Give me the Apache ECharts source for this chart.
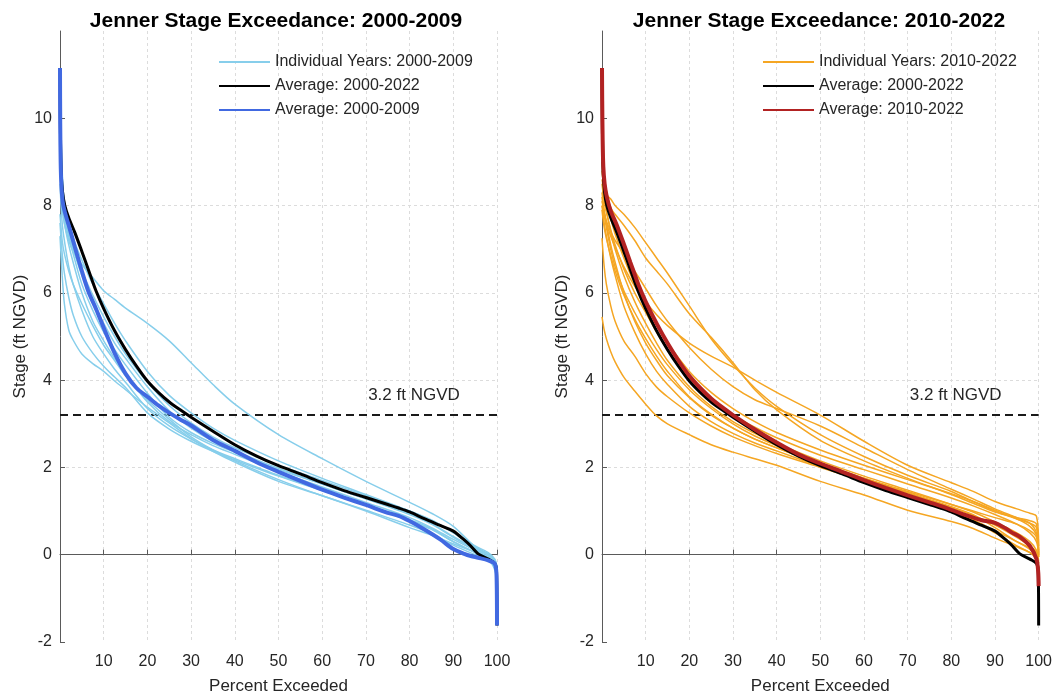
<!DOCTYPE html>
<html>
<head>
<meta charset="utf-8">
<script src="https://cdn.jsdelivr.net/npm/echarts@6/dist/echarts.min.js"></script>
<style>
  html, body { margin: 0; padding: 0; background: #fff; }
  #chart { width: 1055px; height: 700px; }
</style>
</head>
<body>
<div id="chart"></div>
<script>
// Percent-of-time-exceeded positions used by the yearly duration curves
const pctExceeded = [0, 0.5, 1, 2, 3, 5, 7.5, 10, 12.5, 15, 20, 25, 30, 35, 40, 50, 60, 70, 80, 85, 90, 95, 98, 99.5, 100];

// Yearly stage duration curves, 2000-2009 (ft NGVD)
const yr2000 = [9.2, 8.0, 7.6, 7.2, 6.95, 6.65, 6.35, 6.05, 5.85, 5.65, 5.3, 4.9, 4.4, 3.9, 3.45, 2.75, 2.2, 1.68, 1.2, 0.95, 0.65, 0.18, 0.0, -0.15, -0.3];
const yr2001 = [7.3, 6.4, 5.75, 5.15, 4.92, 4.6, 4.38, 4.2, 3.98, 3.78, 3.38, 3.02, 2.66, 2.37, 2.12, 1.68, 1.35, 1.0, 0.62, 0.45, 0.25, 0.06, -0.06, -0.3, -0.55];
const yr2002 = [8.5, 7.6, 7.2, 6.6, 6.2, 5.6, 5.0, 4.6, 4.25, 3.95, 3.35, 2.95, 2.65, 2.4, 2.2, 1.82, 1.48, 1.15, 0.8, 0.6, 0.3, 0.05, -0.1, -0.3, -0.6];
const yr2003 = [9.0, 8.0, 7.6, 7.1, 6.7, 6.0, 5.35, 4.9, 4.5, 4.15, 3.5, 3.05, 2.75, 2.5, 2.3, 1.9, 1.55, 1.2, 0.85, 0.62, 0.35, 0.1, -0.05, -0.2, -0.4];
const yr2004 = [10.5, 8.8, 8.0, 7.3, 6.9, 6.2, 5.6, 5.1, 4.7, 4.35, 3.7, 3.15, 2.8, 2.55, 2.35, 1.95, 1.62, 1.28, 0.95, 0.72, 0.42, 0.15, 0.0, -0.2, -1.6];
const yr2005 = [8.8, 8.0, 7.7, 7.3, 7.0, 6.4, 5.8, 5.3, 4.85, 4.5, 3.85, 3.3, 2.9, 2.6, 2.38, 1.98, 1.62, 1.28, 0.92, 0.7, 0.4, 0.12, -0.02, -0.2, -0.5];
const yr2006 = [9.5, 8.3, 7.9, 7.4, 7.05, 6.5, 5.95, 5.45, 5.0, 4.6, 3.95, 3.42, 3.02, 2.7, 2.45, 2.05, 1.7, 1.35, 1.0, 0.8, 0.5, 0.18, 0.02, -0.12, -0.3];
const yr2007 = [10.0, 8.6, 8.1, 7.6, 7.25, 6.75, 6.2, 5.75, 5.3, 4.9, 4.2, 3.65, 3.25, 2.9, 2.62, 2.15, 1.75, 1.38, 1.0, 0.78, 0.52, 0.2, 0.05, -0.1, -0.3];
const yr2008 = [7.8, 7.2, 6.9, 6.5, 6.2, 5.75, 5.25, 4.8, 4.45, 4.1, 3.55, 3.1, 2.7, 2.4, 2.15, 1.72, 1.35, 1.02, 0.68, 0.48, 0.22, 0.0, -0.12, -0.35, -0.7];
const yr2009 = [7.6, 6.9, 6.45, 5.9, 5.5, 5.0, 4.62, 4.32, 4.07, 3.83, 3.25, 2.88, 2.6, 2.37, 2.17, 1.8, 1.47, 1.13, 0.78, 0.58, 0.3, 0.05, -0.08, -0.3, -0.45];

// Yearly stage duration curves, 2010-2022 (ft NGVD)
const yr2010 = [5.45, 5.15, 4.95, 4.65, 4.42, 4.07, 3.75, 3.45, 3.18, 3.0, 2.75, 2.52, 2.35, 2.2, 2.05, 1.68, 1.37, 1.02, 0.76, 0.6, 0.38, 0.18, 0.05, -0.05, -0.2];
const yr2011 = [7.25, 6.6, 6.2, 5.7, 5.35, 4.9, 4.55, 4.15, 3.84, 3.62, 3.25, 2.95, 2.7, 2.5, 2.32, 2.0, 1.68, 1.35, 1.0, 0.78, 0.5, 0.2, 0.05, -0.1, -0.3];
const yr2012 = [9.4, 8.7, 8.35, 7.95, 7.8, 7.55, 7.2, 6.8, 6.5, 6.2, 5.52, 4.98, 4.4, 3.78, 3.32, 2.62, 2.15, 1.75, 1.38, 1.18, 0.98, 0.85, 0.78, 0.7, 0.1];
const yr2013 = [8.6, 8.35, 8.25, 8.15, 8.0, 7.8, 7.5, 7.15, 6.8, 6.45, 5.7, 4.95, 4.35, 3.82, 3.4, 2.75, 2.25, 1.82, 1.45, 1.22, 1.0, 0.82, 0.72, 0.62, -0.05];
const yr2014 = [8.0, 7.8, 7.6, 7.3, 7.05, 6.6, 6.15, 5.8, 5.5, 5.25, 4.85, 4.55, 4.3, 4.0, 3.72, 3.2, 2.6, 2.05, 1.65, 1.45, 1.22, 1.05, 0.95, 0.88, 0.2];
const yr2015 = [8.1, 7.85, 7.65, 7.4, 7.2, 6.9, 6.5, 6.1, 5.7, 5.35, 4.75, 4.25, 3.85, 3.55, 3.35, 2.95, 2.45, 1.95, 1.5, 1.28, 1.05, 0.85, 0.72, 0.5, -0.05];
const yr2016 = [8.3, 7.9, 7.6, 7.1, 6.7, 6.0, 5.35, 4.85, 4.45, 4.1, 3.6, 3.2, 2.9, 2.65, 2.45, 2.08, 1.75, 1.42, 1.08, 0.9, 0.68, 0.4, 0.2, 0.05, -0.2];
const yr2017 = [8.0, 7.6, 7.3, 6.8, 6.4, 5.7, 5.1, 4.6, 4.2, 3.9, 3.4, 3.05, 2.78, 2.56, 2.38, 2.02, 1.68, 1.35, 1.0, 0.8, 0.55, 0.3, 0.12, -0.05, -0.3];
const yr2018 = [8.8, 8.3, 7.9, 7.4, 7.0, 6.4, 5.8, 5.3, 4.85, 4.45, 3.85, 3.4, 3.05, 2.78, 2.55, 2.15, 1.8, 1.48, 1.15, 0.98, 0.75, 0.5, 0.3, 0.1, -0.15];
const yr2019 = [8.5, 8.1, 7.85, 7.45, 7.1, 6.55, 6.0, 5.55, 5.1, 4.7, 4.05, 3.55, 3.2, 2.92, 2.68, 2.28, 1.95, 1.62, 1.3, 1.12, 0.92, 0.7, 0.5, 0.3, 0.0];
const yr2020 = [9.0, 8.4, 8.1, 7.7, 7.35, 6.8, 6.2, 5.7, 5.25, 4.85, 4.2, 3.72, 3.35, 3.05, 2.8, 2.4, 2.05, 1.72, 1.4, 1.22, 1.02, 0.82, 0.65, 0.45, 0.05];
const yr2021 = [7.9, 7.5, 7.25, 6.85, 6.5, 5.95, 5.4, 4.95, 4.55, 4.2, 3.62, 3.22, 2.9, 2.65, 2.45, 2.08, 1.75, 1.45, 1.15, 1.0, 0.85, 0.7, 0.55, 0.4, 0.0];
const yr2022 = [8.2, 7.8, 7.5, 7.0, 6.6, 6.05, 5.55, 5.1, 4.7, 4.35, 3.78, 3.35, 3.0, 2.72, 2.5, 2.1, 1.75, 1.42, 1.1, 0.92, 0.62, 0.3, 0.15, 0.0, -0.35];

// Average duration curves (finer percent spacing)
const avgPct = [0, 0.05, 0.15, 0.3, 0.6, 1.1, 2, 3.4, 5, 6.5, 8.3, 10, 12.5, 15, 17.5, 20, 22.5, 25, 27.5, 30, 35, 40, 45, 50, 55, 60, 65, 70, 75, 77.5, 80, 83.5, 87, 90, 92.5, 94, 95.7, 98, 99.5, 99.9, 100];
const avg2000to2022 = [11.15, 10.2, 9.3, 8.7, 8.3, 8.0, 7.72, 7.38, 6.95, 6.53, 6.03, 5.64, 5.13, 4.7, 4.32, 3.98, 3.72, 3.5, 3.32, 3.15, 2.83, 2.52, 2.26, 2.04, 1.85, 1.65, 1.47, 1.31, 1.15, 1.07, 0.98, 0.82, 0.67, 0.54, 0.34, 0.2, 0.02, -0.1, -0.2, -0.4, -1.62];
const avg2000to2009 = [11.15, 9.9, 9.0, 8.5, 8.1, 7.85, 7.55, 7.05, 6.5, 6.03, 5.62, 5.2, 4.62, 4.15, 3.82, 3.62, 3.42, 3.25, 3.1, 2.96, 2.63, 2.38, 2.12, 1.9, 1.69, 1.49, 1.31, 1.14, 0.96, 0.89, 0.77, 0.57, 0.35, 0.13, 0.02, -0.03, -0.07, -0.13, -0.21, -0.5, -1.62];
const avg2010to2022 = [11.15, 10.4, 9.5, 8.9, 8.5, 8.2, 7.88, 7.55, 7.12, 6.7, 6.2, 5.8, 5.3, 4.85, 4.45, 4.1, 3.82, 3.58, 3.38, 3.2, 2.87, 2.57, 2.3, 2.09, 1.9, 1.71, 1.53, 1.36, 1.2, 1.12, 1.03, 0.9, 0.79, 0.73, 0.6, 0.5, 0.41, 0.2, -0.1, -0.4, -0.72];

// Reference stage and axis ticks
const referenceStage = 3.2;
const stageTicks = [-2, 0, 2, 4, 6, 8, 10];
const pctTicks = [10, 20, 30, 40, 50, 60, 70, 80, 90, 100];

const yearsEarly = [yr2000, yr2001, yr2002, yr2003, yr2004, yr2005, yr2006, yr2007, yr2008, yr2009];
const yearsLate = [yr2010, yr2011, yr2012, yr2013, yr2014, yr2015, yr2016, yr2017, yr2018, yr2019, yr2020, yr2021, yr2022];

const FONT = '"Liberation Sans", Arial, Helvetica, sans-serif';
const TEXT = '#262626';
const AXIS = '#5a5a5a';

const C_SKY = '#87CEEB';
const C_ORANGE = '#F5A623';
const C_ROYAL = '#4169E1';
const C_RED = '#B22222';

function pairs(xs, ys) { return xs.map((x, i) => [x, ys[i]]); }

function curve(name, idx, xs, ys, color, width) {
  return {
    type: 'line', name: name, xAxisIndex: idx, yAxisIndex: idx,
    data: pairs(xs, ys), symbol: 'none', showSymbol: false,
    smooth: 0.3,
    lineStyle: { color: color, width: width }, itemStyle: { color: color },
    emphasis: { disabled: true }, silent: true, animation: false
  };
}

function refLine(idx) {
  return {
    type: 'line', name: 'ref' + idx, xAxisIndex: idx, yAxisIndex: idx,
    data: [[0, referenceStage], [100, referenceStage]], symbol: 'none',
    lineStyle: { color: '#1a1a1a', width: 2, type: [8, 5] },
    silent: true, animation: false
  };
}

const series = [];
series.push(refLine(0));
yearsEarly.forEach(y => series.push(curve('Individual Years: 2000-2009', 0, pctExceeded, y, C_SKY, 1.5)));
series.push(curve('Average: 2000-2022', 0, avgPct, avg2000to2022, '#000', 3));
series.push(curve('Average: 2000-2009', 0, avgPct, avg2000to2009, C_ROYAL, 4));

series.push(refLine(1));
yearsLate.forEach(y => series.push(curve('Individual Years: 2010-2022', 1, pctExceeded, y, C_ORANGE, 1.5)));
series.push(curve('Average: 2000-2022', 1, avgPct, avg2000to2022, '#000', 3));
series.push(curve('Average: 2010-2022', 1, avgPct, avg2010to2022, C_RED, 4));

function xAxis(idx) {
  return {
    type: 'value', gridIndex: idx, min: 0, max: 100, interval: 10,
    name: 'Percent Exceeded', nameLocation: 'middle', nameGap: 36,
    nameTextStyle: { fontFamily: FONT, fontSize: 17, color: TEXT },
    axisLine: { show: true, lineStyle: { color: AXIS, width: 1 } },
    axisTick: { show: true, inside: true, length: 5, lineStyle: { color: AXIS } },
    axisLabel: { customValues: pctTicks, fontFamily: FONT, fontSize: 16, color: TEXT, margin: 12 },
    splitLine: { show: true, showMinLine: false, lineStyle: { color: '#dcdcdc', width: 1, type: [3, 3] } }
  };
}

function yAxis(idx) {
  return {
    type: 'value', gridIndex: idx, min: -2, max: 12, interval: 2,
    name: 'Stage (ft NGVD)', nameLocation: 'middle', nameGap: 31, nameRotate: 90,
    nameTextStyle: { fontFamily: FONT, fontSize: 17, color: TEXT },
    axisLine: { show: true, lineStyle: { color: AXIS, width: 1 } },
    axisTick: { show: true, inside: true, length: 5, customValues: stageTicks, lineStyle: { color: AXIS } },
    axisLabel: { customValues: stageTicks, fontFamily: FONT, fontSize: 16, color: TEXT, margin: 8 },
    splitLine: { show: true, showMinLine: false, showMaxLine: false, lineStyle: { color: '#dcdcdc', width: 1, type: [3, 3] } }
  };
}

function legend(left, names) {
  return {
    orient: 'vertical', left: left, top: 54, itemWidth: 51, itemHeight: 14, itemGap: 8,
    padding: 0, selectedMode: false, data: names,
    itemStyle: { opacity: 0 },
    textStyle: { fontFamily: FONT, fontSize: 16, color: TEXT }
  };
}

const chart = echarts.init(document.getElementById('chart'), null, { renderer: 'canvas' });
chart.setOption({
  animation: false,
  backgroundColor: '#fff',
  title: [
    { text: 'Jenner Stage Exceedance: 2000-2009', left: 271, top: 6, textAlign: 'center',
      textStyle: { fontFamily: FONT, fontSize: 21, fontWeight: 'bold', color: '#000' } },
    { text: 'Jenner Stage Exceedance: 2010-2022', left: 814, top: 6, textAlign: 'center',
      textStyle: { fontFamily: FONT, fontSize: 21, fontWeight: 'bold', color: '#000' } }
  ],
  grid: [
    { left: 60, top: 31, width: 437, height: 616 },
    { left: 602, top: 31, width: 437, height: 616 }
  ],
  xAxis: [xAxis(0), xAxis(1)],
  yAxis: [yAxis(0), yAxis(1)],
  legend: [
    legend(218, ['Individual Years: 2000-2009', 'Average: 2000-2022', 'Average: 2000-2009']),
    legend(762, ['Individual Years: 2010-2022', 'Average: 2000-2022', 'Average: 2010-2022'])
  ],
  series: series
});

// Reference-stage annotation placed in data coordinates of each panel
const labelAt = [81, 3.66];
const graphics = [0, 1].map(g => {
  const p = chart.convertToPixel({ gridIndex: g }, labelAt);
  return {
    type: 'text', x: p[0], y: p[1], silent: true,
    style: { text: referenceStage + ' ft NGVD', fontFamily: FONT, fontSize: 17, fill: TEXT,
             align: 'center', verticalAlign: 'middle' }
  };
});
chart.setOption({ graphic: graphics });
</script>
</body>
</html>
